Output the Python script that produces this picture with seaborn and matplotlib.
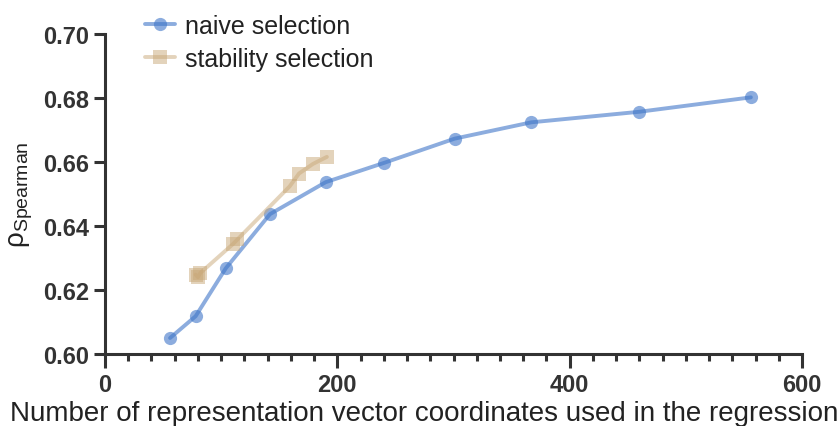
import numpy as np
import pandas as pd
import matplotlib
matplotlib.use('Agg')
import matplotlib.pyplot as plt
import seaborn as sns
from matplotlib.ticker import MultipleLocator

# data
naive_x = [56, 78, 104, 142, 190, 240, 301, 367, 460, 556]
naive_y = [0.6050, 0.6118, 0.6268, 0.6437, 0.6537, 0.6597, 0.6673, 0.6724, 0.6757, 0.6802]
stab_x = [78, 80, 82, 110, 114, 159, 167, 179, 191]
stab_y = [0.6248, 0.6240, 0.6253, 0.6343, 0.6358, 0.6524, 0.6564, 0.6594, 0.6616]

x_ticks = [0, 200, 400, 600]
y_ticks = [0.60, 0.62, 0.64, 0.66, 0.68, 0.70]

sns.set_style('ticks')
plt.rcParams['font.family'] = ['Liberation Sans', 'DejaVu Sans']
plt.rcParams['mathtext.fontset'] = 'custom'
plt.rcParams['mathtext.rm'] = 'Liberation Sans'
plt.rcParams['mathtext.it'] = 'Liberation Sans:italic'

df = pd.concat([
    pd.DataFrame({'x': naive_x, 'y': naive_y, 'method': 'naive selection'}),
    pd.DataFrame({'x': stab_x, 'y': stab_y, 'method': 'stability selection'}),
])

fig = plt.figure(figsize=(8.4, 4.27), dpi=100)
ax = fig.add_axes([105 / 840, 1 - 355 / 427, 697 / 840, 320 / 427])

blue = '#3f76c8'
tan = '#c9a878'
sns.lineplot(data=df[df.method == 'naive selection'], x='x', y='y', ax=ax, color=blue,
             marker='o', markersize=9.5, linewidth=2.8, alpha=0.6, markeredgewidth=0,
             label='naive selection', sort=False)
sns.lineplot(data=df[df.method == 'stability selection'], x='x', y='y', ax=ax, color=tan,
             marker='s', markersize=10, linewidth=2.8, alpha=0.5, markeredgewidth=0,
             label='stability selection', sort=False)

ax.set_xlim(0, 600)
ax.set_ylim(0.60, 0.70)
ax.set_xticks(x_ticks)
ax.set_yticks(y_ticks)
ax.set_yticklabels([f'{v:.2f}' for v in y_ticks])
ax.xaxis.set_minor_locator(MultipleLocator(20))

dark = '#333333'
for s in ['top', 'right']:
    ax.spines[s].set_visible(False)
for s in ['left', 'bottom']:
    ax.spines[s].set_linewidth(2.2)
    ax.spines[s].set_color(dark)
ax.tick_params(axis='both', which='major', width=2.2, color=dark, labelcolor=dark, labelsize=17)
ax.tick_params(axis='x', which='major', length=10)
ax.tick_params(axis='y', which='major', length=8)
ax.tick_params(axis='x', which='minor', length=5, width=2.2, color=dark)
for lbl in ax.get_xticklabels() + ax.get_yticklabels():
    lbl.set_fontweight('bold')

ax.set_xlabel('Number of representation vector coordinates used in the regression',
              fontsize=20, color='#222222')
ax.xaxis.set_label_coords(0.458, -0.145)
ax.set_ylabel('ρ$_{\\mathrm{Spearman}}$', fontsize=20, color='#222222')
ax.yaxis.set_label_coords(-0.1, 0.5)

ax.legend(loc='upper left', bbox_to_anchor=(130 / 840, 1.0), bbox_transform=fig.transFigure,
          frameon=False, fontsize=18, handlelength=1.2, handletextpad=0.4,
          labelspacing=0.35, borderpad=0.1, labelcolor='#222222')

fig.savefig('out.png', dpi=100)
